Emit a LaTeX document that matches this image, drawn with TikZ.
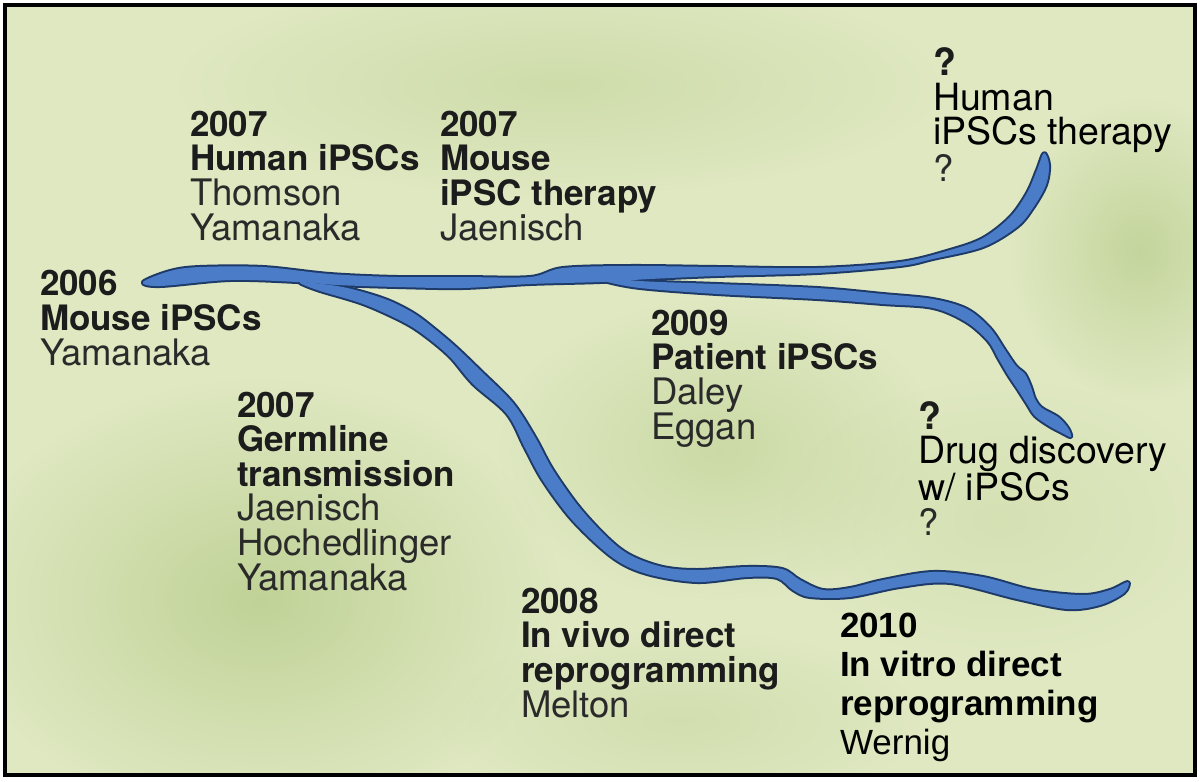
\documentclass[tikz,border=0pt]{standalone}
\usepackage{fontspec}
\setmainfont{TeX Gyre Heros}
\newfontfamily\arialfam{Liberation Sans}
\usetikzlibrary{fadings}
\tikzfading[name=softblob, inner color=transparent!0, outer color=transparent!100]
\definecolor{bgc}{HTML}{DFE8C1}
\definecolor{patchc}{HTML}{BDD093}
\definecolor{riverc}{HTML}{4A7CC8}
\definecolor{rimc}{HTML}{1E3A68}
\definecolor{headc}{HTML}{1C1C1C}
\definecolor{namec}{HTML}{2A2A2A}
\newcommand\hd[1]{{\bfseries\color{headc}#1}}
\newcommand\nm[1]{{\fontsize{36.5}{34.6}\selectfont\color{namec}#1}}
\newcommand\qm[1]{{\fontsize{37.5}{34.4}\selectfont\color{black}#1}}
\tikzset{
  lbl/.style={anchor=base west, align=left, inner sep=0pt, outer sep=0pt,
    font=\fontsize{35}{34.6}\selectfont},
  lblq/.style={lbl, font=\fontsize{37.5}{34.4}\selectfont},
  lblarial/.style={lbl, font=\arialfam\fontsize{35}{39}\selectfont},
  patch/.style={fill=patchc, path fading=softblob},
  rim/.style={draw=rimc, line width=4pt, line join=round},
  water/.style={fill=riverc},
}
\begin{document}
\begin{tikzpicture}[x=1pt,y=-1pt]
\useasboundingbox (0,0) rectangle (1200,782);
\fill[white] (0,0) rectangle (1200,782);
\fill[bgc] (5,5) rectangle (1195,775);
% background blotches
\begin{scope}
\clip (5,5) rectangle (1195,775);
\fill[patch, opacity=0.9] (260,600) ellipse [x radius=300, y radius=220];
\fill[patch, opacity=0.6] (720,450) ellipse [x radius=220, y radius=150];
\fill[patch, opacity=0.5] (560,85) ellipse [x radius=380, y radius=110];
\fill[patch, opacity=0.8] (1140,250) ellipse [x radius=130, y radius=150];
\fill[patch, opacity=0.4] (680,720) ellipse [x radius=240, y radius=90];
\fill[patch, opacity=0.3] (1000,520) ellipse [x radius=220, y radius=140];
\end{scope}
\draw[black, line width=4.5pt] (5,5) rectangle (1195,775);
% rivers
\def\riverA{plot[smooth cycle, tension=0.55] coordinates {
 (143,282) (170,271) (200,267) (263,267) (330,274) (397,277) (463,277) (530,277)
 (563,268) (630,266) (717,267) (817,268) (900,262) (950,250) (983,238) (1010,217)
 (1027,193) (1037,170) (1044,153) (1049,165) (1046,185) (1033,208) (1017,227)
 (983,247) (933,259) (900,266) (817,273) (717,276) (650,279) (600,282) (530,284) (463,288)
 (397,287) (337,285) (297,282) (230,280) (160,286)}}
\def\riverB{plot[smooth cycle, tension=0.55] coordinates {
 (596,276) (640,281) (717,284) (817,288) (883,294) (933,299) (967,309) (990,328)
 (1005,350) (1016,366) (1025,374) (1031,387) (1035,399) (1042,408) (1058,417)
 (1068,428) (1071,437) (1062,433) (1049,426) (1035,416) (1027,404) (1018,390)
 (1008,375) (998,358) (988,341) (966,322) (933,308) (883,304) (817,299) (717,294)
 (640,288) (604,281)}}
\def\riverC{plot[smooth cycle, tension=0.55] coordinates {
 (300,282) (337,286) (363,292) (390,301) (415,314) (436,330) (456,347) (480,370)
 (513,403) (535,437) (553,470) (580,508) (610,540) (632,556) (663,567) (697,570)
 (747,567) (782,569) (800,580) (823,590) (850,588) (883,580) (933,572) (983,577)
 (1033,590) (1083,595) (1110,590) (1128,582) (1124,593) (1100,605) (1067,609)
 (1017,599) (950,583) (900,587) (850,597) (810,597) (793,590) (777,578) (747,577)
 (697,582) (647,574) (613,558) (573,521) (543,481) (525,448) (507,414) (473,384)
 (450,357) (425,336) (403,322) (363,304) (317,290)}}
\draw[rim] \riverA; \draw[rim] \riverB; \draw[rim] \riverC;
\fill[water] \riverA; \fill[water] \riverB; \fill[water] \riverC;
% labels (anchor = baseline of the last line)
\node[lbl] (t2006) at (40,365) {\hd{2006}\\ \hd{Mouse iPSCs}\\ \nm{Yamanaka}};
\node[lbl] (t2007h) at (190,240) {\hd{2007}\\ \hd{Human iPSCs}\\ \nm{Thomson}\\ \nm{Yamanaka}};
\node[lbl] (t2007m) at (440,240) {\hd{2007}\\ \hd{Mouse}\\ \hd{iPSC therapy}\\ \nm{Jaenisch}};
\node[lblq] (thum) at (933,181) {\hd{?}\\ \qm{Human}\\ \qm{iPSCs therapy}\\ \nm{?}};
\node[lbl] (t2007g) at (237,590) {\hd{2007}\\ \hd{Germline}\\ \hd{transmission}\\ \nm{Jaenisch}\\ \nm{Hochedlinger}\\ \nm{Yamanaka}};
\node[lbl] (t2009) at (651,439) {\hd{2009}\\ \hd{Patient iPSCs}\\ \nm{Daley}\\ \nm{Eggan}};
\node[lblq] (tdrug) at (918,535) {\hd{?}\\ \qm{Drug discovery}\\ \qm{w/ iPSCs}\\ \nm{?}};
\node[lbl] (t2008) at (521,717) {\hd{2008}\\ \hd{In vivo direct}\\ \hd{reprogramming}\\ \nm{Melton}};
\node[lblarial] (t2010) at (840,754) {\textbf{2010}\\ \textbf{In vitro direct}\\ \textbf{reprogramming}\\ Wernig};
\end{tikzpicture}
\end{document}
